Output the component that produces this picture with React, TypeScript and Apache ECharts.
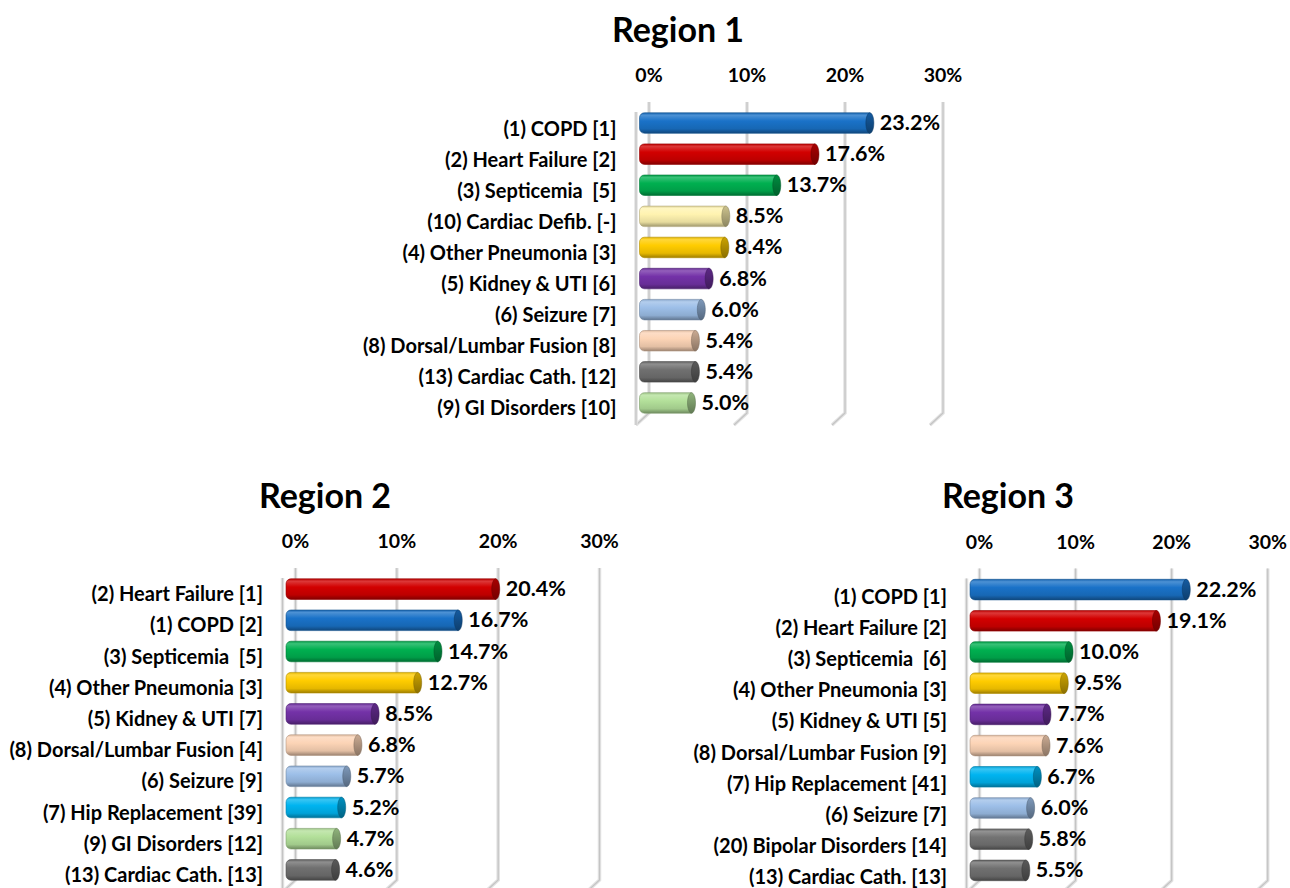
import React, { useEffect, useRef } from "react";
import * as echarts from "echarts";

// ---- Data ----
const titles = ["Region 1", "Region 2", "Region 3"];
const xTicks = [0, 10, 20, 30];

const r1Labels = [
  "(1) COPD [1]",
  "(2) Heart Failure [2]",
  "(3) Septicemia  [5]",
  "(10) Cardiac Defib. [-]",
  "(4) Other Pneumonia [3]",
  "(5) Kidney & UTI [6]",
  "(6) Seizure [7]",
  "(8) Dorsal/Lumbar Fusion [8]",
  "(13) Cardiac Cath. [12]",
  "(9) GI Disorders [10]",
];
const r1Values = [23.2, 17.6, 13.7, 8.5, 8.4, 6.8, 6.0, 5.4, 5.4, 5.0];

const r2Labels = [
  "(2) Heart Failure [1]",
  "(1) COPD [2]",
  "(3) Septicemia  [5]",
  "(4) Other Pneumonia [3]",
  "(5) Kidney & UTI [7]",
  "(8) Dorsal/Lumbar Fusion [4]",
  "(6) Seizure [9]",
  "(7) Hip Replacement [39]",
  "(9) GI Disorders [12]",
  "(13) Cardiac Cath. [13]",
];
const r2Values = [20.4, 16.7, 14.7, 12.7, 8.5, 6.8, 5.7, 5.2, 4.7, 4.6];

const r3Labels = [
  "(1) COPD [1]",
  "(2) Heart Failure [2]",
  "(3) Septicemia  [6]",
  "(4) Other Pneumonia [3]",
  "(5) Kidney & UTI [5]",
  "(8) Dorsal/Lumbar Fusion [9]",
  "(7) Hip Replacement [41]",
  "(6) Seizure [7]",
  "(20) Bipolar Disorders [14]",
  "(13) Cardiac Cath. [13]",
];
const r3Values = [22.2, 19.1, 10.0, 9.5, 7.7, 7.6, 6.7, 6.0, 5.8, 5.5];

// ---- Styles ----
const FONT = "Lato, 'Open Sans', sans-serif";
const conditionColors: Record<string, string> = {
  COPD: "#1a72c8",
  "Heart Failure": "#d20000",
  Septicemia: "#00b050",
  "Cardiac Defib.": "#fff3b0",
  "Other Pneumonia": "#ffcc00",
  "Kidney & UTI": "#7432a8",
  Seizure: "#9dbfe8",
  "Dorsal/Lumbar Fusion": "#fcd4b6",
  "Cardiac Cath.": "#707070",
  "GI Disorders": "#b3e09a",
  "Hip Replacement": "#00b4f0",
  "Bipolar Disorders": "#737373",
};

const layouts = [
  { left: 642.5, top: 107.5, width: 294, height: 311, title: [678, 28], labelShift: 9 },
  { left: 289, top: 573.5, width: 304, height: 312, title: [325, 494], labelShift: 8 },
  { left: 973, top: 574, width: 289, height: 312, title: [1008, 494], labelShift: 12 },
];
const DEPTH = 6.5;

function conditionOf(label: string) {
  return label.replace(/^\(\d+\)\s*/, "").replace(/\s*\[.*\]$/, "").trim();
}

function shade(hex: string, amt: number) {
  const n = parseInt(hex.slice(1), 16);
  let r = (n >> 16) & 255,
    g = (n >> 8) & 255,
    b = n & 255;
  const f = (c: number) =>
    Math.round(amt >= 0 ? c + (255 - c) * amt : c * (1 + amt));
  r = f(r);
  g = f(g);
  b = f(b);
  return "#" + ((1 << 24) | (r << 16) | (g << 8) | b).toString(16).slice(1);
}

function barSeries(idx: number, labels: string[], values: number[]) {
  return {
    type: "custom",
    xAxisIndex: idx,
    yAxisIndex: idx,
    z: 5,
    silent: true,
    encode: { x: 0, y: 1 },
    data: values.map((v, i) => [v, i]),
    renderItem: (params: any, api: any) => {
      const v = api.value(0);
      const ci = api.value(1);
      const s = api.coord([0, ci]);
      const e = api.coord([v, ci]);
      const band = api.size([0, 1])[1];
      const h = band * 0.66;
      const cy = s[1];
      const base = conditionColors[conditionOf(labels[ci])] || "#888888";
      const body = new echarts.graphic.LinearGradient(0, 0, 0, 1, [
        { offset: 0, color: shade(base, -0.12) },
        { offset: 0.12, color: shade(base, 0.22) },
        { offset: 0.4, color: base },
        { offset: 0.78, color: shade(base, -0.1) },
        { offset: 1, color: shade(base, -0.38) },
      ]);
      const cap = new echarts.graphic.LinearGradient(0, 0, 0, 1, [
        { offset: 0, color: shade(base, -0.2) },
        { offset: 1, color: shade(base, -0.45) },
      ]);
      return {
        type: "group",
        children: [
          {
            type: "rect",
            shape: {
              x: s[0] - 3,
              y: cy - h / 2,
              width: e[0] - s[0] + 3,
              height: h,
              r: [5, 0, 0, 5],
            },
            style: { fill: body, stroke: shade(base, -0.3), lineWidth: 0.6 },
          },
          {
            type: "ellipse",
            shape: { cx: e[0], cy: cy, rx: 4, ry: h / 2 },
            style: { fill: cap, stroke: shade(base, -0.5), lineWidth: 0.5 },
          },
          {
            type: "text",
            style: {
              text: v.toFixed(1) + "%",
              x: e[0] + 10,
              y: cy - 1,
              align: "left",
              verticalAlign: "middle",
              fontSize: 21.5,
              fontWeight: "bold",
              fontFamily: FONT,
              fill: "#000",
            },
          },
        ],
      };
    },
  };
}

function gridLineSeries(idx: number) {
  return {
    type: "custom",
    xAxisIndex: idx,
    yAxisIndex: idx,
    z: 1,
    silent: true,
    encode: { x: 0, y: 1 },
    data: xTicks.map((t) => [t, 0]),
    renderItem: (params: any, api: any) => {
      const t = api.value(0);
      const x = api.coord([t, 0])[0];
      const cs = params.coordSys;
      const top = cs.y - 5.5;
      const bot = cs.y + cs.height - 5.5;
      const botF = cs.y + cs.height + 6.5;
      const pts = [
        [x + DEPTH, top],
        [x + DEPTH, bot],
        [x - DEPTH, botF],
      ];
      const children: any[] = [
        { type: "polyline", shape: { points: pts }, style: { stroke: "#e2e2e2", lineWidth: 3.5, fill: null } },
        { type: "polyline", shape: { points: pts }, style: { stroke: "#c4c4c4", lineWidth: 1.2, fill: null } },
      ];
      if (params.dataIndex === 0) {
        const wall = [
          [x - DEPTH, cs.y + 4.5],
          [x - DEPTH, botF],
        ];
        children.push(
          { type: "polyline", shape: { points: wall }, style: { stroke: "#e2e2e2", lineWidth: 3.5, fill: null } },
          { type: "polyline", shape: { points: wall }, style: { stroke: "#c4c4c4", lineWidth: 1.2, fill: null } }
        );
      }
      return { type: "group", children };
    },
  };
}

export default function App() {
  const ref = useRef<HTMLDivElement>(null);
  useEffect(() => {
    if (!ref.current) return;
    const chart = echarts.init(ref.current, null, { renderer: "svg" });
    const allLabels = [r1Labels, r2Labels, r3Labels];
    const allValues = [r1Values, r2Values, r3Values];
    chart.setOption({
      animation: false,
      backgroundColor: "#ffffff",
      graphic: layouts.map((l, i) => ({
        type: "text",
        x: l.title[0],
        y: l.title[1],
        style: {
          text: titles[i],
          align: "center",
          verticalAlign: "middle",
          fontSize: 34,
          fontWeight: "bold",
          fontFamily: FONT,
          fill: "#000",
        },
      })),
      grid: layouts.map((l) => ({
        left: l.left,
        top: l.top,
        width: l.width,
        height: l.height,
      })),
      xAxis: layouts.map((_, i) => ({
        type: "value",
        gridIndex: i,
        position: "top",
        min: xTicks[0],
        max: xTicks[xTicks.length - 1],
        interval: 10,
        axisLine: { show: false },
        axisTick: { show: false },
        splitLine: { show: false },
        axisLabel: {
          formatter: "{value}%",
          fontSize: 19.5,
          fontWeight: "bold",
          fontFamily: FONT,
          color: "#000",
          margin: 23,
          padding: [0, 0, 0, DEPTH * 2],
        },
      })),
      yAxis: layouts.map((l, i) => ({
        type: "category",
        gridIndex: i,
        inverse: true,
        data: allLabels[i],
        axisLine: { show: false },
        axisTick: { show: false },
        splitLine: { show: false },
        axisLabel: {
          fontSize: 20,
          fontWeight: "bold",
          fontFamily: FONT,
          color: "#000",
          margin: 26,
          verticalAlign: "top",
          lineHeight: l.labelShift,
        },
      })),
      series: [
        ...layouts.map((_, i) => gridLineSeries(i)),
        ...layouts.map((_, i) => barSeries(i, allLabels[i], allValues[i])),
      ],
    });
    return () => chart.dispose();
  }, []);
  return (
    <div
      ref={ref}
      style={{ position: "absolute", left: 0, top: 0, width: 1290, height: 888, background: "#fff" }}
    />
  );
}
